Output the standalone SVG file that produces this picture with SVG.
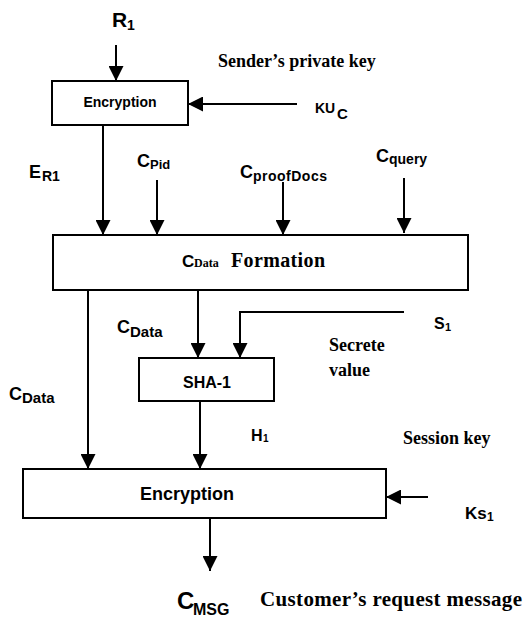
<svg xmlns="http://www.w3.org/2000/svg" width="526" height="622" viewBox="0 0 526 622">
<style>
.box{fill:#fff;stroke:#000;stroke-width:2}
.ln{fill:none;stroke:#000;stroke-width:2;marker-end:url(#ah)}
.s{font-family:"Liberation Sans",Arial,sans-serif;font-weight:bold;fill:#000}
.t{font-family:"Liberation Serif","Times New Roman",serif;font-weight:bold;fill:#000}
</style>
<defs>
<marker id="ah" markerUnits="userSpaceOnUse" markerWidth="15" markerHeight="15" refX="15" refY="7.5" orient="auto">
<path d="M0,0 L15,7.5 L0,15 z" fill="#000"/>
</marker>
</defs>
<rect width="526" height="622" fill="#fff"/>

<g id="connectors">
<line class="ln" x1="116" y1="45" x2="116" y2="81"/>
<line class="ln" x1="297" y1="104" x2="188" y2="104"/>
<line class="ln" x1="103" y1="118" x2="103" y2="235"/>
<line class="ln" x1="157" y1="180" x2="157" y2="235"/>
<line class="ln" x1="283" y1="182" x2="283" y2="235"/>
<line class="ln" x1="404" y1="178" x2="404" y2="233"/>
<line class="ln" x1="88" y1="290" x2="88" y2="469"/>
<line class="ln" x1="198" y1="290" x2="198" y2="358"/>
<polyline class="ln" points="404,312 240,312 240,358"/>
<line class="ln" x1="200" y1="401" x2="200" y2="469"/>
<line class="ln" x1="428" y1="497" x2="386" y2="497"/>
<line class="ln" x1="210" y1="518" x2="210" y2="571"/>
</g>

<g id="encryption1">
<rect class="box" x="52" y="81" width="136" height="44"/>
<text class="s" x="120" y="107" font-size="14" text-anchor="middle">Encryption</text>
</g>

<g id="formation">
<rect class="box" x="53" y="235" width="415" height="55"/>
<text class="s" x="182" y="267" font-size="17">C</text>
<text class="t" x="194" y="267" font-size="12">Data</text>
<text class="t" x="231" y="267" font-size="20" textLength="94">Formation</text>
</g>

<g id="sha1">
<rect class="box" x="139" y="358" width="135" height="43"/>
<text class="s" x="207" y="388" font-size="16" text-anchor="middle">SHA-1</text>
</g>

<g id="encryption2">
<rect class="box" x="23" y="469" width="363" height="49"/>
<text class="s" x="187" y="500" font-size="18" text-anchor="middle">Encryption</text>
</g>

<g id="labels">
<text class="s" x="112" y="27" font-size="21">R</text>
<text class="s" x="127" y="30" font-size="14">1</text>

<text class="t" x="218" y="67" font-size="18">Sender’s private key</text>

<text class="s" x="315" y="113" font-size="14">KU</text>
<text class="s" x="337" y="119" font-size="15">C</text>

<text class="s" x="29" y="178" font-size="18">E</text>
<text class="s" x="42" y="181" font-size="14">R1</text>

<text class="s" x="137" y="167" font-size="18">C</text>
<text class="s" x="150" y="169" font-size="13">Pid</text>

<text class="s" x="240" y="178" font-size="18">C</text>
<text class="s" x="253" y="181" font-size="14" textLength="74">proofDocs</text>

<text class="s" x="376" y="162" font-size="18">C</text>
<text class="s" x="389" y="164" font-size="14">query</text>

<text class="s" x="117" y="333" font-size="18">C</text>
<text class="s" x="130" y="337" font-size="15">Data</text>

<text class="s" x="9" y="400" font-size="18">C</text>
<text class="s" x="22" y="403" font-size="15">Data</text>

<text class="s" x="434" y="329" font-size="16">S</text>
<text class="s" x="445" y="331" font-size="11">1</text>

<text class="t" x="329" y="351" font-size="18">Secrete</text>
<text class="t" x="329" y="376" font-size="18">value</text>

<text class="s" x="251" y="441" font-size="16">H</text>
<text class="s" x="263" y="442" font-size="10">1</text>

<text class="t" x="403" y="444" font-size="18">Session key</text>

<text class="s" x="465" y="519" font-size="17">Ks</text>
<text class="s" x="487" y="521" font-size="12">1</text>

<text class="s" x="177" y="609" font-size="24">C</text>
<text class="s" x="193" y="615" font-size="16">MSG</text>

<text class="t" x="260" y="606" font-size="21" textLength="262">Customer’s request message</text>
</g>
</svg>
